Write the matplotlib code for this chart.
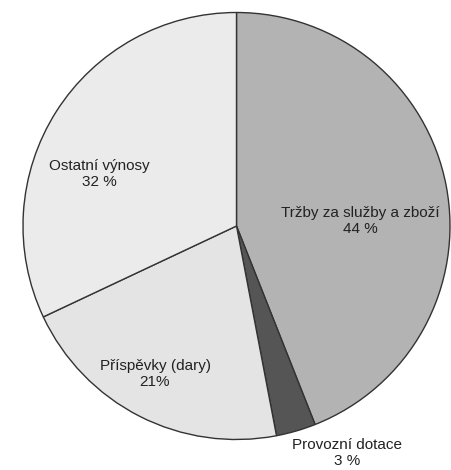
import matplotlib
matplotlib.use("Agg")
import matplotlib.pyplot as plt

categories = ["Tržby za služby a zboží", "Provozní dotace", "Příspěvky (dary)", "Ostatní výnosy"]
values = [44, 3, 21, 32]
pct_labels = ["44 %", "3 %", "21%", "32 %"]
colors = ["#b3b3b3", "#555555", "#e4e4e4", "#ebebeb"]

plt.rcParams['font.family'] = ['Liberation Sans', 'DejaVu Sans']

W, H = 451, 470
fig = plt.figure(figsize=(W / 100, H / 100), dpi=100)
ax = fig.add_axes([0, 0, 1, 1])

cx, cy, r = 236.5, H - 226, 213.5
ax.pie(values, colors=colors, startangle=90, counterclock=False,
       center=(cx, cy), radius=r, frame=True,
       wedgeprops=dict(edgecolor="#333333", linewidth=1.0))
ax.set_xlim(0, W)
ax.set_ylim(0, H)
ax.set_aspect("equal")
ax.axis("off")

# label positions (pixel coords, y from top)
label_pos = [(360, 221), (347, 453), (155, 374), (99, 174)]
for name, pct, (x, y) in zip(categories, pct_labels, label_pos):
    ax.text(x, H - y, f"{name}\n{pct}", ha="center", va="center",
            fontsize=11, color="#222222", linespacing=1.1)

fig.savefig("out.png", dpi=100)
